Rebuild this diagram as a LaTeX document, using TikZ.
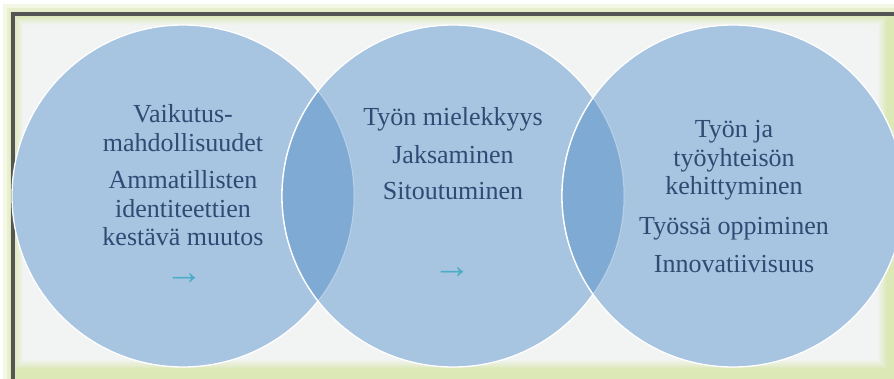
\documentclass[tikz,border=0pt]{standalone}
\usepackage{fontspec}
\setmainfont{Liberation Serif}
\definecolor{ringblue}{HTML}{A7C4E0}
\definecolor{lensblue}{HTML}{7FAAD3}
\definecolor{txtblue}{HTML}{2E4B74}
\definecolor{arrowteal}{HTML}{4BACC6}
\definecolor{glowgreen}{HTML}{DCE8B6}
\definecolor{panelgray}{HTML}{F2F4F3}
\definecolor{framegray}{HTML}{555555}

\begin{document}
\begin{tikzpicture}[x=1pt,y=-1pt]
\tikzstyle{ring}=[circle, fill=ringblue, draw=white, line width=1.3pt, minimum size=342pt, inner sep=0pt]
\tikzstyle{words}=[text=txtblue, font=\fontsize{26}{28.5}\selectfont, align=center, inner sep=0pt, anchor=base]
\tikzstyle{arrowtxt}=[text=arrowteal, font=\fontsize{38}{40}\selectfont, inner sep=0pt]

\useasboundingbox (0,0) rectangle (894,379);
\fill[white] (0,0) rectangle (894,379);

% panel with green glow
\fill[glowgreen!35!white] (3,4) rectangle (894,379);
\fill[glowgreen!70!white] (7,8) rectangle (894,379);
\fill[glowgreen] (10,12) rectangle (894,379);
\foreach \i in {0,...,9} {
  \pgfmathtruncatemacro{\m}{90-\i*10}
  \fill[glowgreen!\m!panelgray] (14+\i,16+\i) rectangle (887-\i,369-\i);
}
\draw[framegray, line width=4pt] (894,14) -- (12.5,14) -- (12.5,379);

% the three circles
\node[ring] (left) at (183,196) {};
\node[ring] (mid) at (453,196) {};
\node[ring] (right) at (733,196) {};

\begin{scope}
  \clip (left.center) circle (171);
  \fill[lensblue] (mid.center) circle (171);
  \draw[white, line width=1.3pt] (mid.center) circle (171);
\end{scope}
\begin{scope}
  \clip (mid.center) circle (171);
  \draw[white, opacity=.35, line width=1pt] (left.center) circle (171);
\end{scope}
\begin{scope}
  \clip (mid.center) circle (171);
  \fill[lensblue] (right.center) circle (171);
  \draw[white, line width=1.3pt] (right.center) circle (171);
\end{scope}
\begin{scope}
  \clip (right.center) circle (171);
  \draw[white, opacity=.35, line width=1pt] (mid.center) circle (171);
\end{scope}

\node[words] (leftwords) at (183,246) {Vaikutus-\\mahdollisuudet\\[9pt]Ammatillisten\\identiteettien\\kestävä muutos};
\node[words] (midwords) at (453,200) {Työn mielekkyys\\[9pt]Jaksaminen\\[8pt]Sitoutuminen};
\node[words] (rightwords) at (734,273) {Työn ja\\työyhteisön\\kehittyminen\\[11pt]Työssä oppiminen\\[10pt]Innovatiivisuus};

\node[arrowtxt] (leftarrow) at (184,279) {→};
\node[arrowtxt] (midarrow) at (452,273) {→};

\end{tikzpicture}
\end{document}
